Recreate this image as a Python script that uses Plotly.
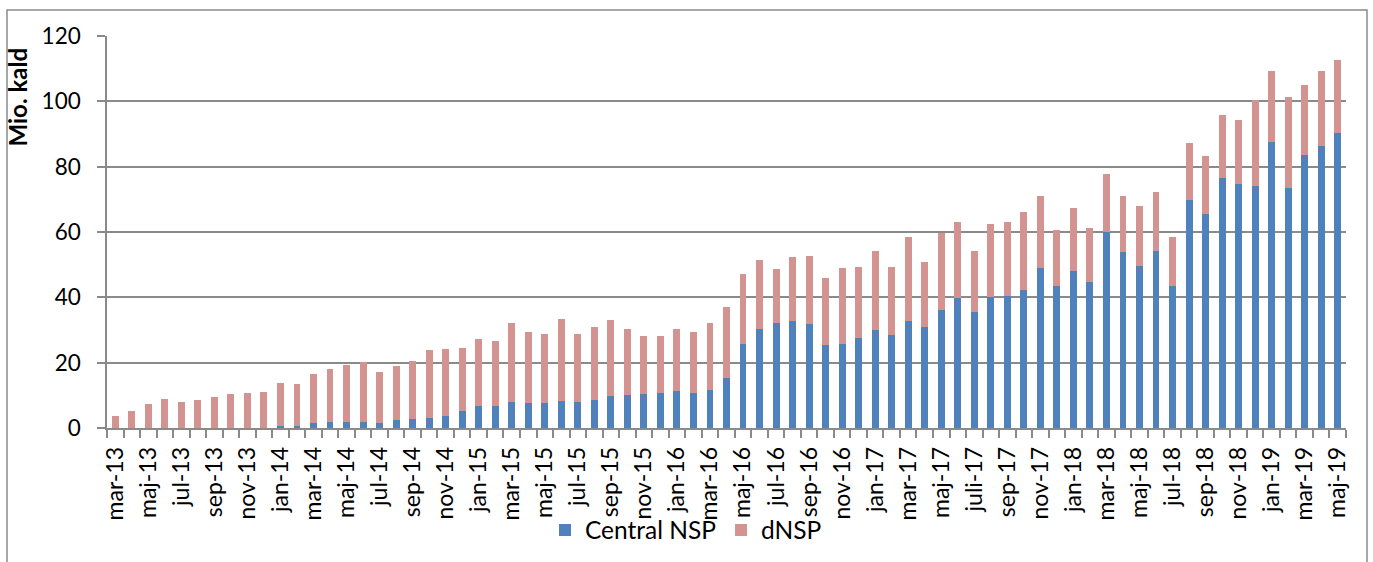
import plotly.graph_objects as go

# ---- data ----
month_names = ["jan", "feb", "mar", "apr", "maj", "jun", "jul", "aug", "sep", "okt", "nov", "dec"]
months = []
for yr in range(13, 20):
    for mi, mn in enumerate(month_names):
        if yr == 13 and mi < 2:
            continue
        if yr == 19 and mi > 4:
            continue
        lab = f"{mn}-{yr}"
        if lab == "jul-17":
            lab = "juli-17"
        months.append(lab)

central_nsp = [0, 0, 0, 0, 0, 0, 0, 0, 0, 0,
               0.6, 0.6, 1.5, 1.8, 1.8, 1.9, 1.6, 2.4, 2.8, 3.2,
               3.6, 5.1, 6.7, 6.6, 8.1, 7.8, 7.6, 8.2, 7.9, 8.5,
               9.8, 10.1, 10.4, 10.7, 11.3, 10.6, 11.5, 15.3, 25.6, 30.4,
               32.0, 32.7, 31.7, 25.3, 25.8, 27.4, 29.9, 28.4, 32.9, 30.8,
               36.0, 39.7, 35.4, 40.0, 40.4, 42.2, 49.1, 43.6, 48.1, 44.6,
               60.1, 53.9, 49.6, 54.2, 43.4, 69.7, 65.5, 76.5, 74.7, 74.1,
               87.6, 73.5, 83.6, 86.3, 90.4]

dnsp = [3.8, 5.3, 7.2, 8.8, 8.0, 8.7, 9.5, 10.3, 10.8, 11.0,
        13.1, 12.8, 15.1, 16.2, 17.6, 18.2, 15.6, 16.6, 17.8, 20.7,
        20.5, 19.4, 20.5, 20.1, 23.9, 21.5, 21.3, 25.2, 21.0, 22.5,
        23.2, 20.1, 17.7, 17.6, 18.9, 18.7, 20.6, 21.6, 21.6, 21.1,
        16.8, 19.7, 21.0, 20.6, 23.1, 22.0, 24.2, 21.0, 25.5, 20.1,
        23.7, 23.4, 18.8, 22.6, 22.7, 23.9, 21.9, 17.0, 19.3, 16.5,
        17.6, 17.1, 18.5, 17.9, 15.0, 17.6, 17.7, 19.2, 19.7, 26.4,
        21.8, 27.8, 21.3, 22.9, 22.2]

y_ticks = [0, 20, 40, 60, 80, 100, 120]

# ---- layout geometry (pixels) ----
W, H = 1373, 562
ML, MR, MT, MB = 107, 27, 36, 134
PW, PH = W - ML - MR, H - MT - MB


def px_x(p):
    return (p - ML) / PW


def px_y(p):
    return (H - MB - p) / PH


FONT = "Lato, 'Open Sans', sans-serif"
GRID = "#8a8a8a"
BLUE = "#4F81BD"
PINK = "#D39391"

x = list(range(len(months)))

fig = go.Figure()
fig.add_trace(go.Bar(x=x, y=central_nsp, name="Central NSP", marker_color=BLUE,
                     width=0.42, marker_line_width=0))
fig.add_trace(go.Bar(x=x, y=dnsp, name="dNSP", marker_color=PINK,
                     width=0.42, marker_line_width=0))

fig.update_layout(
    barmode="stack",
    width=W, height=H,
    margin=dict(l=ML, r=MR, t=MT, b=MB, pad=0, autoexpand=False),
    paper_bgcolor="white", plot_bgcolor="white",
    font=dict(family=FONT, color="#000000"),
    showlegend=True,
    legend=dict(orientation="h", x=px_x(686), y=px_y(530), xanchor="center", yanchor="middle",
                font=dict(size=24.5, family=FONT), bgcolor="rgba(0,0,0,0)",
                itemwidth=30, traceorder="normal"),
)

fig.update_xaxes(
    automargin=False,
    range=[-0.5, len(months) - 0.5],
    tickmode="array", tickvals=x[::2], ticktext=months[::2],
    tickangle=-90, ticks="", ticklabelstandoff=8,
    tickfont=dict(size=23, family=FONT, color="#000000"),
    showline=True, linecolor=GRID, linewidth=1.5,
    showgrid=False, zeroline=False,
    minor=dict(tickmode="array", tickvals=[i - 0.5 for i in range(len(months) + 1)],
               ticks="outside", ticklen=8, tickcolor=GRID, tickwidth=1.5, showgrid=False),
)

fig.update_yaxes(
    automargin=False,
    range=[0, 120], tickmode="array", tickvals=y_ticks,
    ticks="outside", ticklen=8, tickcolor=GRID, tickwidth=1.5,
    ticklabelstandoff=12,
    tickfont=dict(size=22.5, family=FONT, color="#000000"),
    showline=True, linecolor=GRID, linewidth=1.5,
    showgrid=True, gridcolor=GRID, gridwidth=1.5, zeroline=False,
)

fig.add_annotation(text="<b>Mio. kald</b>", textangle=-90,
                   xref="paper", yref="paper", x=px_x(17), y=px_y(46),
                   xanchor="center", yanchor="top", showarrow=False,
                   font=dict(size=24, family=FONT, color="#000000"))

fig.add_shape(type="rect", xref="paper", yref="paper",
              x0=px_x(7), x1=px_x(1367), y0=px_y(580), y1=px_y(10),
              line=dict(color=GRID, width=1.5), fillcolor="rgba(0,0,0,0)", layer="below")

fig.write_html("out.html", config={"displayModeBar": False},
               post_script="document.body.style.margin='0';document.body.style.overflow='hidden';")
